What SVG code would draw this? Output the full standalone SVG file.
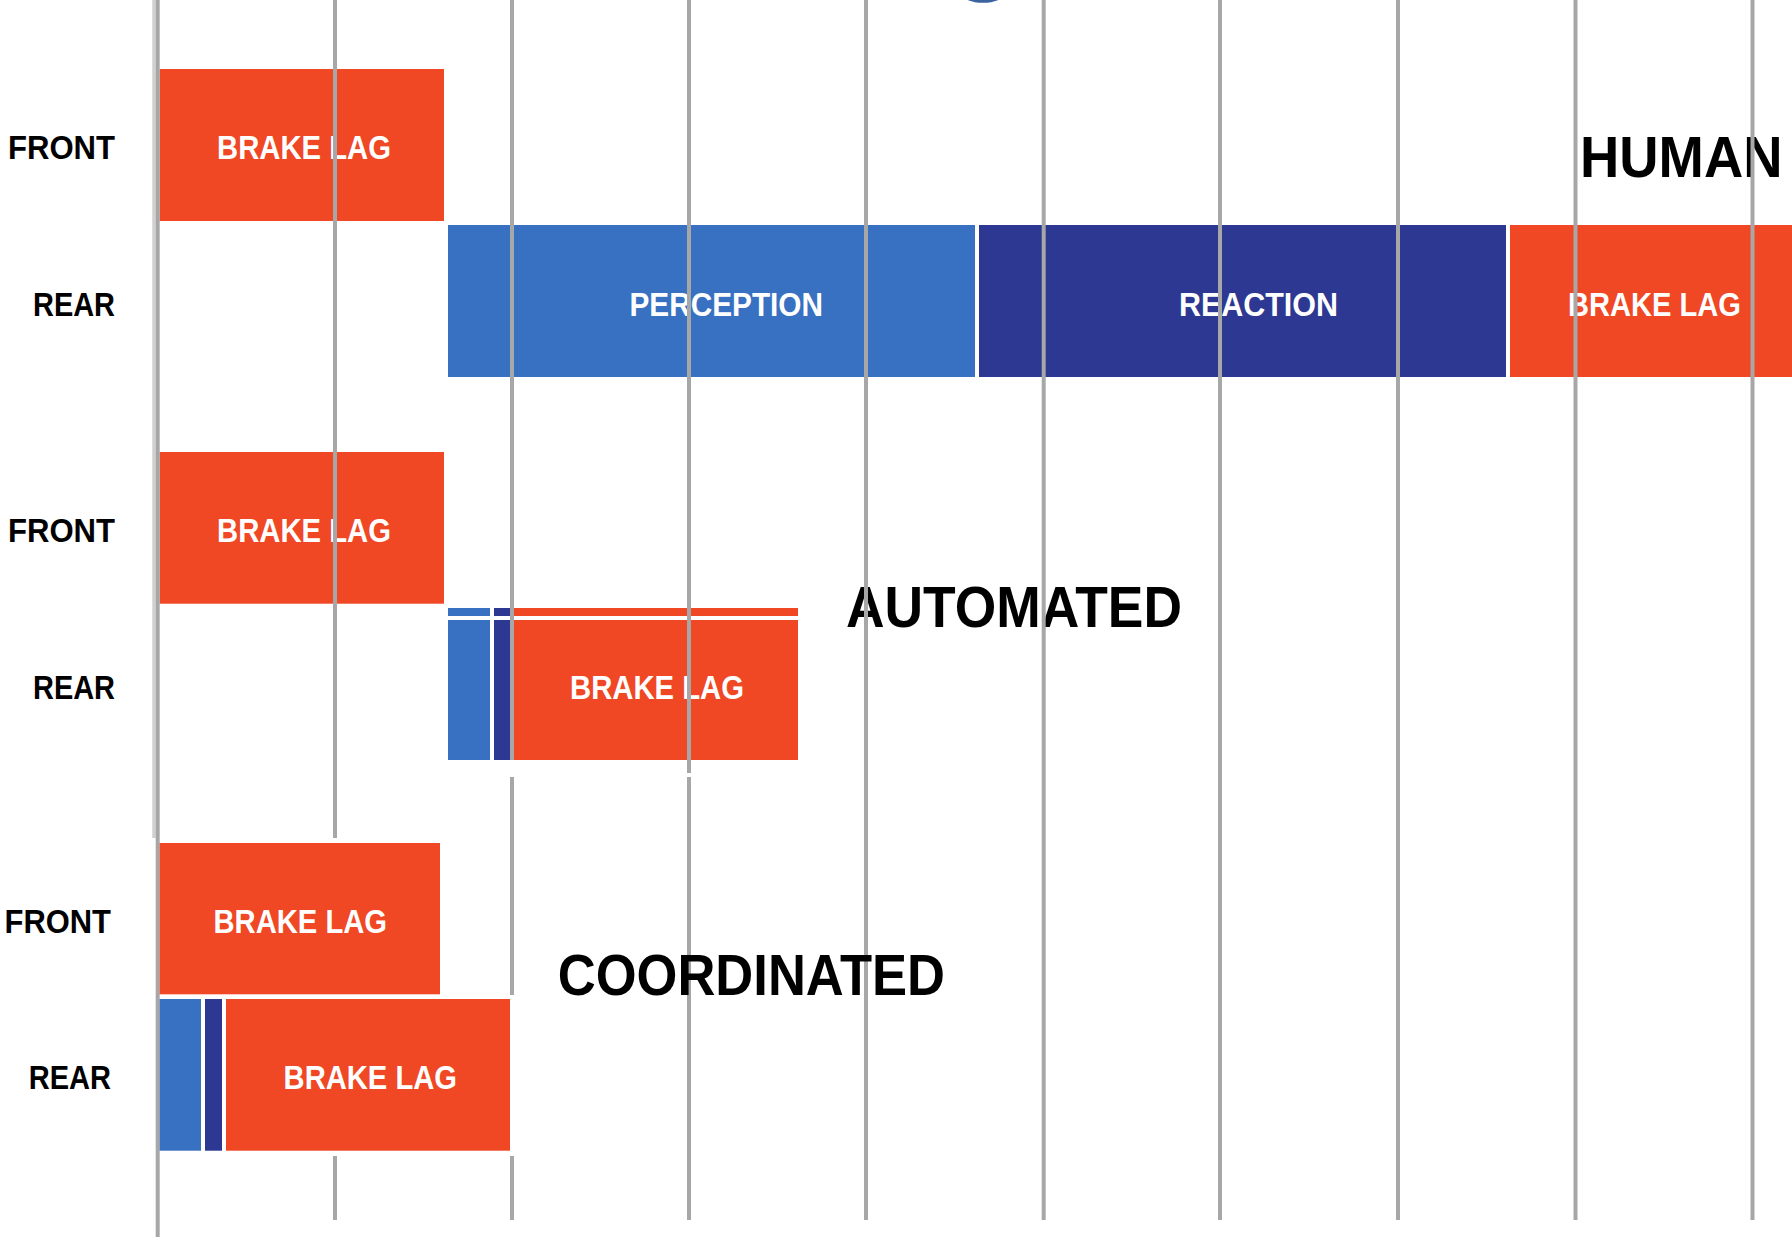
<svg xmlns="http://www.w3.org/2000/svg" width="1792" height="1239" viewBox="0 0 1792 1239">
<style>
.red{fill:#f04724}
.blue{fill:#3871c1}
.navy{fill:#2c3891}
.grid{stroke:#a7a7a7;stroke-width:4;fill:none}
.gridlt{stroke:#d0d0d0;stroke-width:3.5;fill:none}
.bl{font-family:"Liberation Sans",Arial,sans-serif;font-weight:bold;font-size:33px;fill:#ffffff}
.row{font-family:"Liberation Sans",Arial,sans-serif;font-weight:bold;font-size:33px;fill:#000000}
.title{font-family:"Liberation Sans",Arial,sans-serif;font-weight:bold;font-size:57px;fill:#000000}
</style>
<rect x="0" y="0" width="1792" height="1239" fill="#ffffff"/>
<ellipse cx="983" cy="-6" rx="21" ry="8.7" fill="#3a64a0"/>

<g id="human">
  <g id="human-front-brakelag">
    <rect class="red" x="159.6" y="69" width="284.4" height="152"/>
    <text class="bl" x="217" y="159" textLength="174" lengthAdjust="spacingAndGlyphs">BRAKE LAG</text>
  </g>
  <g id="human-rear-perception">
    <rect class="blue" x="448" y="225" width="527" height="152"/>
    <text class="bl" x="629.5" y="316" textLength="193.5" lengthAdjust="spacingAndGlyphs">PERCEPTION</text>
  </g>
  <g id="human-rear-reaction">
    <rect class="navy" x="979" y="225" width="527" height="152"/>
    <text class="bl" x="1179" y="316" textLength="159" lengthAdjust="spacingAndGlyphs">REACTION</text>
  </g>
  <g id="human-rear-brakelag">
    <rect class="red" x="1510" y="225" width="282" height="152"/>
    <text class="bl" x="1568" y="316" textLength="173" lengthAdjust="spacingAndGlyphs">BRAKE LAG</text>
  </g>
  <text id="human-title" class="title" x="1580" y="177" textLength="202.5" lengthAdjust="spacingAndGlyphs">HUMAN</text>
  <text class="row" x="115" y="159.3" text-anchor="end" textLength="107" lengthAdjust="spacingAndGlyphs">FRONT</text>
  <text class="row" x="115" y="316" text-anchor="end" textLength="82" lengthAdjust="spacingAndGlyphs">REAR</text>
</g>

<g id="automated">
  <g id="automated-front-brakelag">
    <rect class="red" x="159.6" y="452" width="284.4" height="151.7"/>
    <text class="bl" x="217" y="541.7" textLength="174" lengthAdjust="spacingAndGlyphs">BRAKE LAG</text>
  </g>
  <g id="automated-rear">
    <rect class="blue" x="448" y="608" width="42" height="8"/>
    <rect class="navy" x="494" y="608" width="16" height="8"/>
    <rect class="red" x="514" y="608" width="284" height="8"/>
    <rect class="blue" x="448" y="620" width="42" height="140"/>
    <rect class="navy" x="494" y="620" width="16" height="140"/>
    <rect class="red" x="514" y="620" width="284" height="140"/>
    <text class="bl" x="570" y="699" textLength="174" lengthAdjust="spacingAndGlyphs">BRAKE LAG</text>
  </g>
  <text id="automated-title" class="title" x="846" y="627" font-size="58" textLength="336" lengthAdjust="spacingAndGlyphs">AUTOMATED</text>
  <text class="row" x="115" y="541.7" text-anchor="end" textLength="107" lengthAdjust="spacingAndGlyphs">FRONT</text>
  <text class="row" x="115" y="699" text-anchor="end" textLength="82" lengthAdjust="spacingAndGlyphs">REAR</text>
</g>

<g id="gridlines">
  <line class="gridlt" x1="154" y1="0" x2="154" y2="838"/>
  <line class="grid" x1="157.7" y1="0" x2="157.7" y2="1237"/>
  <line class="grid" x1="335" y1="0" x2="335" y2="838"/>
  <line class="grid" x1="335" y1="1156" x2="335" y2="1220"/>
  <line class="grid" x1="512" y1="0" x2="512" y2="760"/>
  <line class="grid" x1="512" y1="777" x2="512" y2="995"/>
  <line class="grid" x1="512" y1="1156" x2="512" y2="1220"/>
  <line class="grid" x1="689" y1="0" x2="689" y2="773"/>
  <line class="grid" x1="689" y1="777" x2="689" y2="1220"/>
  <line class="grid" x1="866" y1="0" x2="866" y2="1220"/>
  <line class="grid" x1="1043.7" y1="0" x2="1043.7" y2="1220"/>
  <line class="grid" x1="1220" y1="0" x2="1220" y2="1220"/>
  <line class="grid" x1="1398" y1="0" x2="1398" y2="1220"/>
  <line class="grid" x1="1575.5" y1="0" x2="1575.5" y2="1220"/>
  <line class="grid" x1="1752.5" y1="0" x2="1752.5" y2="1220"/>
</g>

<g id="coordinated">
  <g id="coordinated-front-brakelag">
    <rect class="red" x="159.6" y="843" width="280.4" height="151.3"/>
    <text class="bl" x="213.5" y="932.7" textLength="173.5" lengthAdjust="spacingAndGlyphs">BRAKE LAG</text>
  </g>
  <g id="coordinated-rear">
    <rect class="blue" x="159.6" y="999" width="41.4" height="151.7"/>
    <rect class="navy" x="205" y="999" width="17" height="151.7"/>
    <rect class="red" x="226" y="999" width="284" height="151.7"/>
    <text class="bl" x="283.6" y="1089" textLength="173.4" lengthAdjust="spacingAndGlyphs">BRAKE LAG</text>
  </g>
  <text id="coordinated-title" class="title" x="557.7" y="995" font-size="60" textLength="387.3" lengthAdjust="spacingAndGlyphs">COORDINATED</text>
  <text class="row" x="111" y="932.7" text-anchor="end" textLength="106.4" lengthAdjust="spacingAndGlyphs">FRONT</text>
  <text class="row" x="111" y="1089" text-anchor="end" textLength="82.3" lengthAdjust="spacingAndGlyphs">REAR</text>
</g>
</svg>
